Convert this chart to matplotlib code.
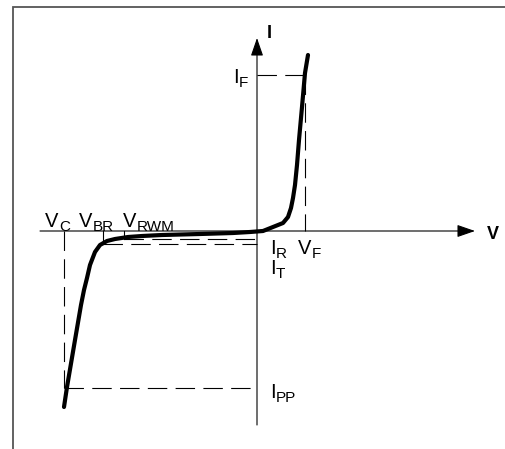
import matplotlib
matplotlib.use('Agg')
import matplotlib.pyplot as plt

plt.rcParams['font.family'] = ['Liberation Sans', 'DejaVu Sans']
plt.rcParams['lines.scale_dashes'] = False

# I-V characteristic of a TVS diode (arbitrary units, origin at V=0, I=0)
v_curve = [-193, -190, -182, -176, -173, -170, -167, -162, -157, -150, -142,
           -129, -115, -95, -57, -24, -7, 6, 16, 26, 31, 34, 36, 38, 40, 42,
           45, 48, 51]
i_curve = [-176, -156, -109, -74, -59, -47, -34, -21, -14, -10, -8,
           -6, -5, -4, -3, -2, -1, 0, 4, 8, 14, 23, 33, 46, 66, 91,
           124, 158, 176]

# characteristic points
v_c, v_br, v_rwm, v_f = -193, -154, -133, 48
i_f, i_r, i_t, i_pp = 156, -8, -13, -157

fig = plt.figure(figsize=(5.06, 4.49), dpi=100)
ax = fig.add_axes([0, 0, 1, 1])
ax.set_xlim(-257, 249)
ax.set_ylim(-218, 231)
ax.axis('off')

# outer frame (only left and top edges visible)
ax.plot([-244.5, -244.5, 249], [-218, 224.5, 224.5], color='#555555', lw=1.3,
        solid_joinstyle='miter', clip_on=False)

# axes with arrows
arrow = dict(arrowstyle='-|>,head_length=1.1,head_width=0.38', color='black',
             lw=0.8, mutation_scale=10, shrinkA=0, shrinkB=0)
ax.annotate('', xy=(218, 0), xytext=(-217, 0), arrowprops=arrow)
ax.annotate('', xy=(0, 193), xytext=(0, -194), arrowprops=arrow)
ax.text(230, -8, 'V', fontsize=13, fontweight='bold', va='baseline', ha='left')
ax.text(10, 193, 'I', fontsize=13, fontweight='bold', va='baseline', ha='left')

# dashed guide lines
dash = dict(color='black', lw=0.8, linestyle=(0, (14, 6)))
ax.plot([0, v_f], [i_f, i_f], **dash)
ax.plot([v_f, v_f], [i_f, 0], **dash)
ax.plot([v_c, v_c], [0, i_pp], **dash)
ax.plot([v_c, 0], [i_pp, i_pp], **dash)
ax.plot([v_rwm, 0], [i_r, i_r], **dash)
ax.plot([v_br, 0], [i_t, i_t], **dash)

# small solid ticks for V_BR and V_RWM
ax.plot([v_br, v_br], [0, i_t], color='black', lw=0.8)
ax.plot([v_rwm, v_rwm], [0, i_r], color='black', lw=0.8)

# the characteristic curve
ax.plot(v_curve, i_curve, color='black', lw=3.0, solid_capstyle='round',
        solid_joinstyle='round')


def label(x, y, main, sub):
    t = ax.text(x, y, main, fontsize=14.5, va='baseline', ha='left')
    ax.annotate(sub, xy=(1, 0), xycoords=t, xytext=(0.3, -0.3),
                textcoords='offset points', fontsize=11, va='baseline',
                ha='left')


label(-212, 4, 'V', 'C')
label(-178, 4, 'V', 'BR')
label(-134, 4, 'V', 'RWM')
label(-24, 148, 'I', 'F')
label(13, -23, 'I', 'R')
label(13, -43, 'I', 'T')
label(41, -23, 'V', 'F')
label(13, -167, 'I', 'PP')

fig.savefig('out.png', dpi=100)
